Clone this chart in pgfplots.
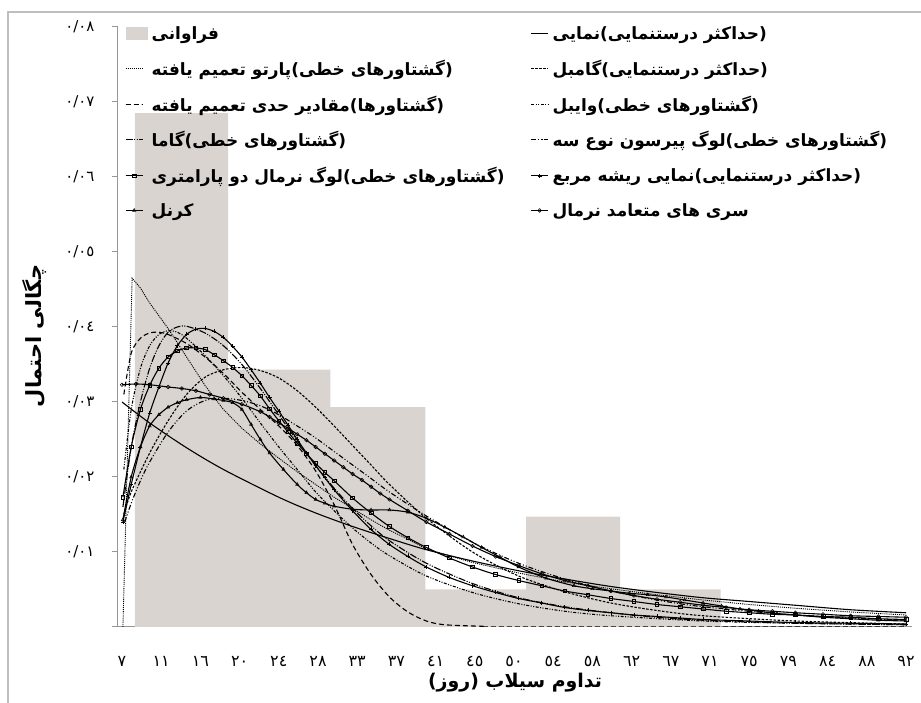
\documentclass[border=0pt]{standalone}
\usepackage{pgfplots}
\pgfplotsset{compat=1.18}
\usepackage{fontspec}
\TeXXeTstate=1
\newfontfamily\arabicfont[Script=Arabic]{DejaVu Sans}
\newcommand{\ar}[1]{{\arabicfont\bfseries\beginR #1\endR}}
\definecolor{barfill}{RGB}{217,212,207}
\definecolor{axgray}{RGB}{150,150,150}
\definecolor{framegray}{RGB}{190,190,190}
\begin{document}
\begin{tikzpicture}[x=1bp,y=1bp]
\useasboundingbox (-118,-76) rectangle (803,627);
\draw[framegray, line width=1.2bp] (-110,-90) -- (-110,615) -- (820,615);
\begin{axis}[
  at={(0,0)}, anchor=south west, scale only axis,
  width=794bp, height=600bp,
  xmin=6.566, xmax=92.65, ymin=0, ymax=0.08,
  scaled y ticks=false,
  axis x line=bottom, axis y line=left,
  axis line style={-, draw=axgray, line width=1bp},
  clip=true,
  xtick={7,11.25,15.5,19.75,24,28.25,32.5,36.75,41,45.25,49.5,53.75,58,62.25,66.5,70.75,75,79.25,83.5,87.75,92},
  xticklabels={٧,١١,١٦,٢٠,٢٤,٢٨,٣٣,٣٧,٤١,٤٥,٥٠,٥٤,٥٨,٦٢,٦٧,٧١,٧٥,٧٩,٨٤,٨٨,٩٢},
  ytick={0,0.01,0.02,0.03,0.04,0.05,0.06,0.07,0.08},
  yticklabels={,٠/٠١,٠/٠٢,٠/٠٣,٠/٠٤,٠/٠٥,٠/٠٦,٠/٠٧,٠/٠٨},
  tick align=outside, major tick length=6bp,
  ytick style={draw=axgray, line width=1bp},
  xtick style={draw=none},
  xticklabel style={font=\arabicfont\fontsize{16}{18}\selectfont, anchor=center, yshift=-28bp},
  yticklabel style={font=\arabicfont\fontsize{15}{17}\selectfont, anchor=east, xshift=-14bp},
  xlabel={{\arabicfont\bfseries\beginR تداوم سیلاب (روز)\endR}},
  ylabel={{\arabicfont\bfseries\beginR چگالی احتمال\endR}},
  xlabel style={at={(axis description cs:0.5,-0.093)}, anchor=center, font=\fontsize{19}{21}\selectfont},
  ylabel style={at={(axis description cs:-0.105,0.485)}, anchor=center, font=\fontsize{21}{23}\selectfont},
  legend columns=2,
  legend cell align=left,
  legend style={at={(0.005,1.008)}, anchor=north west, draw=none, fill=none,
    font=\fontsize{17}{19}\selectfont, row sep=15bp,
    /tikz/every odd column/.append style={column sep=2bp},
    /tikz/every even column/.append style={column sep=24bp}},
  every axis plot/.append style={line width=1.1bp, black},
]
% frequency histogram
\addplot[fill=barfill, draw=none, const plot mark left,
  legend image code/.code={\fill[barfill] (0bp,-6bp) rectangle (22bp,7bp);}]
  coordinates {(8.4,0.0685)(18.5,0.0343)(29.6,0.0293)(39.9,0.0050)(50.8,0.0147)(61.0,0.0050)(71.9,0.0050)} \closedcycle;
\addlegendentry{\ar{فراوانی}}
% exponential ML
\addplot[smooth] coordinates {(7,0.0300)(10,0.0272)(14,0.0239)(18,0.0210)(24,0.0173)(28,0.0152)(32,0.0134)(36,0.0118)(40,0.0103)(45,0.0088)(50,0.0075)(55,0.0064)(60,0.0054)(65,0.0046)(70,0.0039)(75,0.0034)(80,0.0029)(86,0.0023)(92,0.0019)};
\addlegendentry{\ar{(حداکثر درستنمایی)نمایی}}
% generalized Pareto L-moments
\addplot[densely dotted, line width=0.9bp] coordinates {(7.1,0)(8.1,0.0465)(9,0.0452)(10,0.0432)(11,0.0415)(12,0.0398)(14,0.0360)(16,0.0322)(18,0.0290)(20,0.0265)(22,0.0244)(24,0.0225)(26,0.0207)(28,0.0190)(30,0.0173)(32,0.0158)(34,0.0143)(36,0.0129)(38,0.0117)(40,0.0104)(45,0.0086)(50,0.0072)(55,0.0060)(60,0.0051)(65,0.0043)(70,0.0036)(75,0.0030)(80,0.0025)(86,0.0020)(92,0.0016)};
\addlegendentry{\ar{(گشتاورهای خطی)پارتو تعمیم یافته}}
% Gumbel ML
\addplot[smooth, dash pattern=on 2.5bp off 1.5bp] coordinates {(7.2,0.0150)(8,0.0180)(10,0.0232)(12,0.0275)(14,0.0310)(16,0.0333)(18,0.0343)(20,0.0346)(22,0.0342)(24,0.0332)(26,0.0315)(28,0.0293)(30,0.0268)(32,0.0242)(34,0.0216)(36,0.0190)(40,0.0145)(45,0.0100)(50,0.0068)(55,0.0047)(60,0.0032)(65,0.0022)(70,0.0015)(80,0.0008)(92,0.0004)};
\addlegendentry{\ar{(حداکثر درستنمایی)گامبل}}
% GEV moments
\addplot[smooth, dash pattern=on 5bp off 3bp] coordinates {(7.2,0.0310)(8,0.0365)(9,0.0385)(10,0.0392)(11,0.0393)(12,0.0390)(14,0.0378)(16,0.0360)(18,0.0338)(20,0.0313)(22,0.0290)(24,0.0268)(26,0.0242)(28,0.0208)(30,0.0163)(32,0.0110)(34,0.0070)(36,0.0040)(38,0.0020)(40,0.0008)(42,0.0003)(46,0.0001)(50,0)(92,0)};
\addlegendentry{\ar{(گشتاورها)مقادیر حدی تعمیم یافته}}
% Weibull L-moments
\addplot[smooth, dash pattern=on 3bp off 1.5bp on 1bp off 1.5bp on 1bp off 1.5bp] coordinates {(7.2,0.0210)(8,0.0290)(9,0.0345)(10,0.0375)(11,0.0390)(12,0.0395)(13,0.0393)(14,0.0385)(16,0.0362)(18,0.0335)(20,0.0305)(22,0.0272)(24,0.0240)(26,0.0210)(28,0.0180)(30,0.0155)(32,0.0132)(34,0.0112)(36,0.0095)(40,0.0068)(45,0.0046)(50,0.0031)(55,0.0021)(60,0.0015)(70,0.0008)(80,0.0005)(92,0.0003)};
\addlegendentry{\ar{(گشتاورهای خطی)وایبل}}
% Gamma L-moments
\addplot[smooth, dash pattern=on 7bp off 1.5bp on 1bp off 1.5bp on 1bp off 1.5bp] coordinates {(7.1,0.0160)(8,0.0240)(9,0.0300)(10,0.0345)(11,0.0375)(12,0.0393)(13,0.0400)(14,0.0401)(16,0.0392)(18,0.0375)(20,0.0350)(22,0.0318)(24,0.0283)(26,0.0248)(28,0.0215)(30,0.0185)(32,0.0158)(34,0.0135)(36,0.0115)(40,0.0085)(45,0.0058)(50,0.0039)(55,0.0027)(60,0.0019)(65,0.0013)(70,0.0009)(80,0.0005)(92,0.0003)};
\addlegendentry{\ar{(گشتاورهای خطی)گاما}}
% Log-Pearson III L-moments
\addplot[smooth, dash pattern=on 5bp off 2bp on 1bp off 2bp on 1bp off 2bp] coordinates {(7.3,0.0140)(8,0.0165)(9,0.0195)(10,0.0220)(12,0.0260)(14,0.0288)(16,0.0302)(18,0.0305)(20,0.0302)(22,0.0295)(24,0.0283)(26,0.0268)(28,0.0252)(30,0.0234)(32,0.0216)(34,0.0198)(36,0.0180)(40,0.0148)(45,0.0113)(50,0.0085)(55,0.0064)(60,0.0048)(65,0.0036)(70,0.0027)(80,0.0016)(92,0.0009)};
\addlegendentry{\ar{(گشتاورهای خطی)لوگ پیرسون نوع سه}}
% Log-normal 2p L-moments
\addplot[smooth, mark=square, mark size=1.8bp, mark options={solid, line width=0.6bp}] coordinates {(7.1,0.0173)(8,0.0240)(9,0.0290)(10,0.0322)(11,0.0345)(12,0.0360)(13,0.0368)(14,0.0372)(15,0.0372)(16,0.0370)(17,0.0363)(18,0.0355)(19,0.0346)(20,0.0335)(21,0.0322)(22,0.0308)(23,0.0291)(24,0.0275)(25,0.0260)(26,0.0245)(27,0.0231)(28,0.0218)(29,0.0206)(30,0.0195)(32,0.0172)(34,0.0152)(36,0.0134)(38,0.0119)(40,0.0106)(42.5,0.0092)(45,0.0080)(47.5,0.0070)(50,0.0062)(52.5,0.0055)(55,0.0048)(57.5,0.0043)(60,0.0038)(62.5,0.0034)(65,0.0030)(67.5,0.0027)(70,0.0024)(72.5,0.0021)(75,0.0019)(77.5,0.0017)(80,0.0016)(83,0.0014)(86,0.0013)(89,0.0011)(92,0.0010)};
\addlegendentry{\ar{(گشتاورهای خطی)لوگ نرمال دو پارامتری}}
% square-root exponential ML
\addplot[smooth, mark=+, mark size=2bp, mark options={solid, line width=0.6bp}] coordinates {(7.1,0.0140)(8,0.0190)(9,0.0240)(10,0.0285)(11,0.0320)(12,0.0352)(13,0.0375)(14,0.0390)(15,0.0397)(16,0.0398)(17,0.0394)(18,0.0386)(19,0.0374)(20,0.0360)(21,0.0343)(22,0.0325)(23,0.0306)(24,0.0288)(25,0.0269)(26,0.0250)(27,0.0232)(28,0.0215)(29,0.0199)(30,0.0183)(32,0.0155)(34,0.0130)(36,0.0110)(38,0.0094)(40,0.0080)(42.5,0.0066)(45,0.0055)(47.5,0.0046)(50,0.0038)(52.5,0.0032)(55,0.0026)(57.5,0.0022)(60,0.0019)(62.5,0.0016)(65,0.0014)(67.5,0.0012)(70,0.0010)(75,0.0008)(80,0.0006)(86,0.0005)(92,0.0004)};
\addlegendentry{\ar{(حداکثر درستنمایی)نمایی ریشه مربع}}
% kernel
\addplot[smooth, mark=triangle, mark size=1.8bp, mark options={solid, line width=0.6bp}] coordinates {(7.1,0.0143)(8,0.0200)(9,0.0240)(10,0.0268)(11,0.0283)(12,0.0293)(13,0.0299)(14,0.0303)(15.5,0.0306)(17,0.0304)(18,0.0302)(19,0.0299)(20,0.0290)(21,0.0270)(22,0.0250)(23,0.0232)(24.5,0.0210)(26,0.0190)(27,0.0179)(28,0.0170)(29,0.0165)(30,0.0161)(32,0.0157)(34,0.0156)(36,0.0156)(38,0.0153)(40,0.0145)(42,0.0133)(44,0.0120)(46,0.0106)(48,0.0093)(50,0.0080)(53,0.0065)(56,0.0055)(58,0.0051)(60,0.0048)(62,0.0045)(64,0.0043)(66,0.0040)(68,0.0036)(70,0.0032)(72,0.0028)(74,0.0024)(76,0.0021)(78,0.0018)(80,0.0016)(83,0.0013)(86,0.0011)(89,0.0009)(92,0.0008)};
\addlegendentry{\ar{کرنل}}
% normal orthogonal series
\addplot[smooth, mark=o, mark size=1.8bp, mark options={solid, line width=0.6bp}] coordinates {(7,0.0323)(8.5,0.0324)(10,0.0323)(12,0.0320)(13.5,0.0318)(15,0.0315)(16.5,0.0310)(18,0.0305)(20,0.0297)(22,0.0287)(23,0.0280)(24,0.0272)(25,0.0265)(26,0.0257)(27,0.0249)(28,0.0240)(29,0.0231)(30,0.0222)(31,0.0213)(32,0.0204)(33,0.0196)(34,0.0187)(35,0.0178)(36,0.0170)(38,0.0155)(40,0.0140)(42.5,0.0124)(45,0.0108)(47.5,0.0094)(50,0.0082)(52.5,0.0071)(55,0.0062)(57.5,0.0055)(60,0.0048)(62.5,0.0042)(65,0.0037)(67.5,0.0033)(70,0.0029)(72.5,0.0026)(75,0.0023)(77.5,0.0021)(80,0.0019)(83,0.0017)(86,0.0015)(89,0.0014)(92,0.0013)};
\addlegendentry{\ar{سری های متعامد نرمال}}
\end{axis}
\end{tikzpicture}
\end{document}
